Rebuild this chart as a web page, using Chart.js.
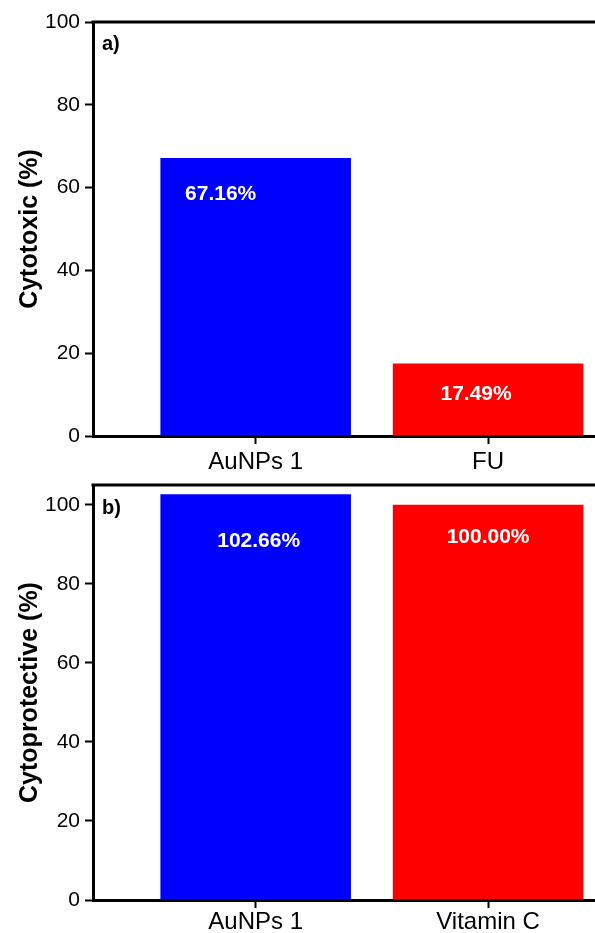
<!DOCTYPE html>
<html>
<head>
<meta charset="utf-8">
<script src="https://cdn.jsdelivr.net/npm/chart.js@4/dist/chart.umd.min.js"></script>
<style>
body { margin: 0; background: #fff; width: 595px; height: 933px; overflow: hidden; }
.box { position: absolute; left: 0; width: 595px; }
</style>
</head>
<body>
<div class="box" style="top:0;height:476px"><canvas id="chartA"></canvas></div>
<div class="box" style="top:476px;height:457px"><canvas id="chartB"></canvas></div>
<script>
// panel a) cytotoxicity
var labels_a = ['AuNPs 1', 'FU']
var values_a = [67.16, 17.49]
// panel b) cytoprotection
var labels_b = ['AuNPs 1', 'Vitamin C']
var values_b = [102.66, 100.00]

var bar_colors = ['#0000ff', '#ff0000']
var y_ticks = [0, 20, 40, 60, 80, 100]

Chart.defaults.font.family = '"Liberation Sans", Arial, sans-serif'
Chart.defaults.color = '#000'

var panelDecor = {
    id: 'panelDecor',
    afterDraw: function(chart, args, opts) {
        var ctx = chart.ctx
        var area = chart.chartArea
        ctx.save()
        // top frame line
        ctx.strokeStyle = '#000'
        ctx.lineWidth = 3
        ctx.beginPath()
        ctx.moveTo(area.left - 1.5, area.top)
        ctx.lineTo(area.right, area.top)
        ctx.stroke()
        // panel letter
        ctx.fillStyle = '#000'
        ctx.font = 'bold 20px "Liberation Sans", Arial, sans-serif'
        ctx.textAlign = 'left'
        ctx.textBaseline = 'middle'
        ctx.fillText(opts.letter, area.left + 9, area.top + opts.letterDy)
        // value labels inside bars
        ctx.fillStyle = '#fff'
        ctx.font = 'bold 21px "Liberation Sans", Arial, sans-serif'
        ctx.textAlign = 'center'
        var meta = chart.getDatasetMeta(0)
        meta.data.forEach(function(bar, i) {
            var v = chart.data.datasets[0].data[i].y
            ctx.fillText(v.toFixed(2) + '%', bar.x + opts.offsets[i][0], bar.y + opts.offsets[i][1])
        })
        ctx.restore()
    }
}

function makeChart(id, labels, values, yMax, yTitle, xHeight, xPad, padTop, decor) {
    var points = values.map(function(v, i) { return {x: i + 1, y: v} })
    return new Chart(document.getElementById(id).getContext('2d'), {
        type: 'bar',
        data: {
            datasets: [{
                data: points,
                backgroundColor: bar_colors,
                borderWidth: 0,
                barPercentage: 0.82,
                categoryPercentage: 1
            }]
        },
        options: {
            responsive: true,
            maintainAspectRatio: false,
            animation: false,
            layout: { padding: { top: padTop, left: 0, right: 0, bottom: 0 } },
            plugins: {
                legend: { display: false },
                tooltip: { enabled: false },
                panelDecor: decor
            },
            scales: {
                x: {
                    type: 'linear',
                    offset: false,
                    min: 0.3,
                    max: 2.46,
                    afterBuildTicks: function(scale) {
                        scale.ticks = labels.map(function(l, i) { return {value: i + 1} })
                    },
                    afterFit: function(scale) {
                        scale.height = xHeight
                        scale.paddingLeft = 0
                        scale.paddingRight = 0
                    },
                    ticks: {
                        autoSkip: false,
                        maxRotation: 0,
                        padding: xPad,
                        font: { size: 24 },
                        color: '#000',
                        callback: function(value, index) { return labels[index] }
                    },
                    grid: { offset: false, drawOnChartArea: false, drawTicks: true, tickLength: 8, tickWidth: 2, color: '#000' },
                    border: { display: true, color: '#000', width: 3 }
                },
                y: {
                    min: 0,
                    max: yMax,
                    afterBuildTicks: function(scale) {
                        scale.ticks = y_ticks.map(function(v) { return {value: v} })
                    },
                    afterFit: function(scale) {
                        scale.width = 93
                        scale.paddingTop = 0
                        scale.paddingBottom = 0
                    },
                    ticks: { padding: 5, font: { size: 21 }, color: '#000' },
                    grid: { drawOnChartArea: false, drawTicks: true, tickLength: 8, tickWidth: 2, color: '#000' },
                    border: { display: true, color: '#000', width: 3 },
                    title: {
                        display: true,
                        text: yTitle,
                        color: '#000',
                        font: { size: 25, weight: 'bold' },
                        padding: { top: 15, bottom: 0 }
                    }
                }
            }
        },
        plugins: [panelDecor]
    })
}

var chartA = makeChart('chartA', labels_a, values_a, 100, 'Cytotoxic (%)', 40, 4, 22,
    { letter: 'a)', letterDy: 22, offsets: [[-35, 36], [-12, 31]] })
var chartB = makeChart('chartB', labels_b, values_b, 105, 'Cytoprotective (%)', 33, 0, 9,
    { letter: 'b)', letterDy: 23, offsets: [[3, 47], [0, 32]] })
</script>
</body>
</html>
